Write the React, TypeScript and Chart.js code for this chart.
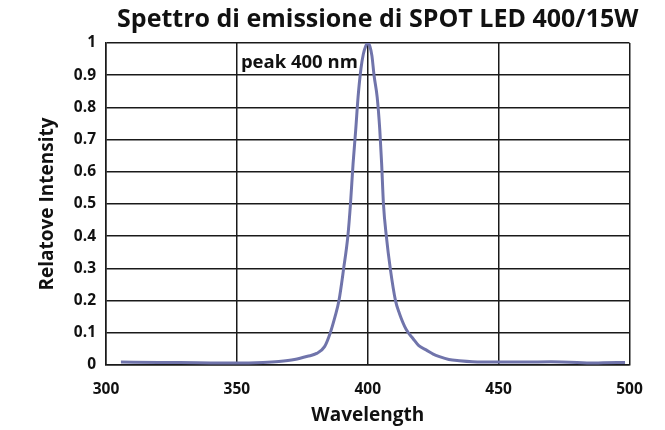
import React, { useEffect, useRef } from "react";
import { Chart, registerables } from "chart.js";

Chart.register(...registerables);

const TITLE = "Spettro di emissione di SPOT LED 400/15W";
const X_TITLE = "Wavelength";
const Y_TITLE = "Relatove Intensity";
const PEAK_LABEL = "peak 400 nm";
const PEAK_LABEL_AT = [350, 0.94];

const wavelengths = [
  305.7, 320, 335, 350, 360, 366, 372, 377, 380.5, 383.5, 385.6, 387.5, 389,
  390.8, 392.4, 393.4, 394.4, 395.4, 396.3, 397.4, 398.3, 399.2, 400, 400.8,
  401.6, 402.4, 403.6, 404.6, 405.3, 406, 407.1, 408.6, 410.6, 412.1, 414.7,
  417.2, 419.5, 422.3, 425, 427.4, 431, 435, 440, 450, 460, 470, 480, 485, 490,
  498.3,
];
const intensity = [
  0.009, 0.008, 0.007, 0.006, 0.008, 0.011, 0.017, 0.027, 0.036, 0.057, 0.098,
  0.15, 0.2, 0.3, 0.4, 0.5, 0.626, 0.73, 0.832, 0.92, 0.965, 0.99, 1.0, 0.99,
  0.96, 0.9, 0.832, 0.73, 0.626, 0.5, 0.4, 0.3, 0.2, 0.16, 0.11, 0.083, 0.06,
  0.047, 0.034, 0.026, 0.017, 0.013, 0.01, 0.009, 0.009, 0.01, 0.008, 0.006,
  0.007, 0.008,
];

const FONT = "'Open Sans', Roboto, 'DejaVu Sans', sans-serif";

const overlayPlugin = {
  id: "overlay",
  afterDraw(chart: any) {
    const { ctx, chartArea, scales } = chart;
    ctx.save();
    ctx.fillStyle = "#111";
    ctx.font = `bold 25px ${FONT}`;
    ctx.textAlign = "center";
    ctx.textBaseline = "middle";
    ctx.fillText(TITLE, (chartArea.left + chartArea.right) / 2 + 10, 20);
    ctx.font = `bold 18.5px ${FONT}`;
    ctx.textAlign = "left";
    ctx.fillText(
      PEAK_LABEL,
      scales.x.getPixelForValue(PEAK_LABEL_AT[0]) + 4,
      scales.y.getPixelForValue(PEAK_LABEL_AT[1])
    );
    ctx.restore();
  },
};

export default function App() {
  const ref = useRef<HTMLCanvasElement>(null);
  useEffect(() => {
    const chart = new Chart(ref.current!, {
      type: "line",
      data: {
        datasets: [
          {
            data: wavelengths.map((x, i) => ({ x, y: intensity[i] })),
            borderColor: "#7074ab",
            borderWidth: 3,
            pointRadius: 0,
            cubicInterpolationMode: "monotone",
            fill: false,
          },
        ],
      },
      options: {
        animation: false,
        responsive: true,
        maintainAspectRatio: false,
        layout: { padding: { top: 43, left: 28, right: 35.5, bottom: 0 } },
        plugins: { legend: { display: false }, tooltip: { enabled: false } },
        scales: {
          x: {
            type: "linear",
            min: 300,
            max: 500,
            ticks: {
              stepSize: 50,
              color: "#111",
              padding: 15,
              maxRotation: 0,
              font: { family: FONT, size: 15.5, weight: "bold" },
            },
            grid: { color: "#1a1a1a", lineWidth: 1.5, drawTicks: false },
            border: { color: "#1a1a1a", width: 1.5 },
            title: {
              display: true,
              text: X_TITLE,
              color: "#111",
              padding: { top: 0, bottom: 3 },
              font: { family: FONT, size: 19, weight: "bold" },
            },
            afterFit: (s: any) => {
              s.height = 65;
            },
          },
          y: {
            min: 0,
            max: 1,
            ticks: {
              stepSize: 0.1,
              color: "#111",
              padding: 10,
              callback: (v: any) => String(Math.round(v * 10) / 10),
              font: { family: FONT, size: 15.5, weight: "bold" },
            },
            grid: { color: "#1a1a1a", lineWidth: 1.5, drawTicks: false },
            border: { color: "#1a1a1a", width: 1.5 },
            title: {
              display: true,
              text: Y_TITLE,
              color: "#111",
              padding: { top: 8, bottom: 0 },
              font: { family: FONT, size: 19, weight: "bold" },
            },
            afterFit: (s: any) => {
              s.width = 78;
            },
          },
        },
      },
      plugins: [overlayPlugin],
    } as any);
    return () => chart.destroy();
  }, []);
  return (
    <div
      style={{
        position: "absolute",
        left: 0,
        top: 0,
        width: 665,
        height: 430,
        background: "#fff",
      }}
    >
      <canvas ref={ref} />
    </div>
  );
}
